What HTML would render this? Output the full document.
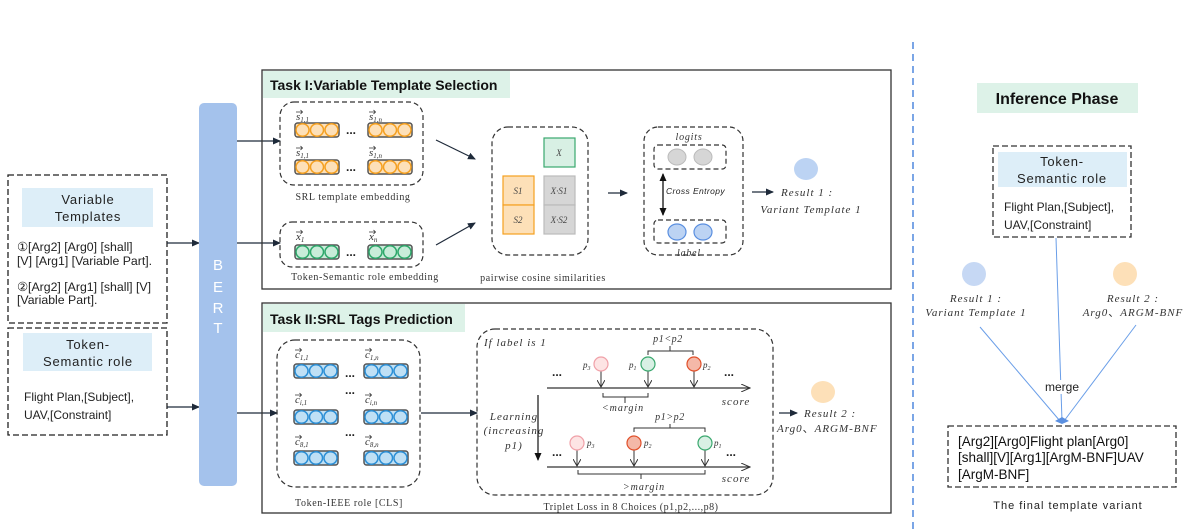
<!DOCTYPE html>
<html><head><meta charset="utf-8"><style>
html,body{margin:0;padding:0;background:#fff;}
svg{display:block;font-family:"Liberation Sans",sans-serif;}
.it{font-family:"Liberation Serif",serif;font-style:italic;}
.sf{font-family:"Liberation Serif",serif;}
</style></head><body>
<svg width="1196" height="532" viewBox="0 0 1196 532" xmlns="http://www.w3.org/2000/svg">
<defs>
<marker id="ah" markerWidth="8" markerHeight="8" refX="7" refY="4" orient="auto" markerUnits="userSpaceOnUse"><path d="M0,0.5 L8,4 L0,7.5 Z" fill="#1e2a3a"/></marker>
<marker id="ahs" markerWidth="8" markerHeight="8" refX="7" refY="4" orient="auto-start-reverse" markerUnits="userSpaceOnUse"><path d="M0,0.5 L8,4 L0,7.5 Z" fill="#111"/></marker>
<marker id="vh" markerWidth="8" markerHeight="8" refX="7" refY="4" orient="auto" markerUnits="userSpaceOnUse"><path d="M0,0 L7,4 L0,8" fill="none" stroke="#333" stroke-width="1"/></marker>
<marker id="oh" markerWidth="10" markerHeight="8" refX="9" refY="4" orient="auto" markerUnits="userSpaceOnUse"><path d="M0,0 L9,4 L0,8" fill="none" stroke="#333" stroke-width="1"/></marker>
<path id="va" d="M0,0 H6.5 M4.5,-2 L6.5,0 L4.5,2" fill="none" stroke="#333" stroke-width="0.8"/>
<g id="og"><rect x="0" y="-7" width="44" height="14" rx="2.5" fill="#fde0b8" stroke="#555" stroke-width="1.5"/><ellipse cx="7.5" cy="0" rx="6.5" ry="6.3" fill="#fde0b8" stroke="#f5a020" stroke-width="1.5"/><ellipse cx="22" cy="0" rx="6.5" ry="6.3" fill="#fde0b8" stroke="#f5a020" stroke-width="1.5"/><ellipse cx="36.5" cy="0" rx="6.5" ry="6.3" fill="#fde0b8" stroke="#f5a020" stroke-width="1.5"/></g>
<g id="gg"><rect x="0" y="-7" width="44" height="14" rx="2.5" fill="#c8ecd9" stroke="#555" stroke-width="1.5"/><ellipse cx="7.5" cy="0" rx="6.5" ry="6.3" fill="#c8ecd9" stroke="#2ea86b" stroke-width="1.5"/><ellipse cx="22" cy="0" rx="6.5" ry="6.3" fill="#c8ecd9" stroke="#2ea86b" stroke-width="1.5"/><ellipse cx="36.5" cy="0" rx="6.5" ry="6.3" fill="#c8ecd9" stroke="#2ea86b" stroke-width="1.5"/></g>
<g id="bg"><rect x="0" y="-7" width="44" height="14" rx="2.5" fill="#bfe0f5" stroke="#555" stroke-width="1.5"/><ellipse cx="7.5" cy="0" rx="6.5" ry="6.3" fill="#bfe0f5" stroke="#2b8fd6" stroke-width="1.5"/><ellipse cx="22" cy="0" rx="6.5" ry="6.3" fill="#bfe0f5" stroke="#2b8fd6" stroke-width="1.5"/><ellipse cx="36.5" cy="0" rx="6.5" ry="6.3" fill="#bfe0f5" stroke="#2b8fd6" stroke-width="1.5"/></g>
</defs>

<!-- Left boxes -->
<rect x="8" y="175" width="159" height="148" fill="none" stroke="#222" stroke-width="1.3" stroke-dasharray="6,3"/>
<rect x="22" y="188" width="131" height="39" fill="#ddeef8"/>
<text x="88" y="204" font-size="13" text-anchor="middle" letter-spacing="0.8" fill="#222">Variable</text>
<text x="88" y="221" font-size="13" text-anchor="middle" letter-spacing="0.8" fill="#222">Templates</text>
<g font-size="12.3" fill="#222">
<text x="17" y="251">①[Arg2] [Arg0] [shall]</text>
<text x="17" y="265">[V] [Arg1] [Variable Part].</text>
<text x="17" y="291">②[Arg2] [Arg1] [shall] [V]</text>
<text x="17" y="304">[Variable Part].</text>
</g>
<rect x="8" y="328" width="159" height="107" fill="none" stroke="#222" stroke-width="1.3" stroke-dasharray="6,3"/>
<rect x="23" y="333" width="129" height="38" fill="#ddeef8"/>
<text x="88" y="349" font-size="13" text-anchor="middle" letter-spacing="0.8" fill="#222">Token-</text>
<text x="88" y="366" font-size="13" text-anchor="middle" letter-spacing="0.8" fill="#222">Semantic role</text>
<text x="24" y="401" font-size="12" fill="#222">Flight Plan,[Subject],</text>
<text x="24" y="419" font-size="12" fill="#222">UAV,[Constraint]</text>
<line x1="167" y1="243" x2="199" y2="243" stroke="#1e2a3a" stroke-width="1.2" marker-end="url(#ah)"/>
<line x1="167" y1="407" x2="199" y2="407" stroke="#1e2a3a" stroke-width="1.2" marker-end="url(#ah)"/>

<!-- BERT -->
<rect x="199" y="103" width="38" height="383" rx="5" fill="#a4c2ec"/>
<g font-size="15" fill="#fff" text-anchor="middle"><text x="218" y="270">B</text><text x="218" y="292">E</text><text x="218" y="313">R</text><text x="218" y="333">T</text></g>
<line x1="237" y1="141" x2="280" y2="141" stroke="#1e2a3a" stroke-width="1.2" marker-end="url(#ah)"/>
<line x1="237" y1="243" x2="280" y2="243" stroke="#1e2a3a" stroke-width="1.2" marker-end="url(#ah)"/>
<line x1="237" y1="413" x2="277" y2="413" stroke="#1e2a3a" stroke-width="1.2" marker-end="url(#ah)"/>

<!-- Task I -->
<rect x="262" y="70" width="629" height="219" fill="none" stroke="#333" stroke-width="1.3"/>
<rect x="263" y="71" width="247" height="27" fill="#ddf2e8"/>
<text x="270" y="90" font-size="14" font-weight="bold" fill="#111">Task I:Variable Template Selection</text>
<rect x="280" y="102" width="143" height="83" rx="14" fill="none" stroke="#333" stroke-width="1.2" stroke-dasharray="5,3"/>
<g class="it" font-size="11" fill="#333">
<text x="296" y="120">s<tspan font-size="7" dy="2">1,1</tspan></text>
<text x="369" y="120">s<tspan font-size="7" dy="2">1,n</tspan></text>
<text x="296" y="156">s<tspan font-size="7" dy="2">1,1</tspan></text>
<text x="369" y="156">s<tspan font-size="7" dy="2">1,n</tspan></text>
</g>
<use href="#va" x="296" y="112"/><use href="#va" x="369" y="112"/><use href="#va" x="296" y="148"/><use href="#va" x="369" y="148"/>
<use href="#og" x="295" y="130"/><use href="#og" x="368" y="130"/>
<use href="#og" x="295" y="167"/><use href="#og" x="368" y="167"/>
<text x="346" y="134" font-size="12" font-weight="bold" fill="#222">...</text>
<text x="346" y="171" font-size="12" font-weight="bold" fill="#222">...</text>
<text x="353" y="200" class="sf" font-size="10" text-anchor="middle" letter-spacing="0.6" fill="#333">SRL template embedding</text>
<rect x="280" y="222" width="143" height="45" rx="12" fill="none" stroke="#333" stroke-width="1.2" stroke-dasharray="5,3"/>
<text x="296" y="240" class="it" font-size="11" fill="#333">x<tspan font-size="7" dy="2">1</tspan></text>
<text x="369" y="240" class="it" font-size="11" fill="#333">x<tspan font-size="7" dy="2">n</tspan></text>
<use href="#va" x="296" y="232"/><use href="#va" x="369" y="232"/>
<use href="#gg" x="295" y="252"/><use href="#gg" x="368" y="252"/>
<text x="346" y="256" font-size="12" font-weight="bold" fill="#222">...</text>
<text x="365" y="280" class="sf" font-size="10" text-anchor="middle" letter-spacing="0.6" fill="#333">Token-Semantic role embedding</text>
<line x1="436" y1="140" x2="475" y2="159" stroke="#1e2a3a" stroke-width="1.2" marker-end="url(#ah)"/>
<line x1="436" y1="245" x2="475" y2="223" stroke="#1e2a3a" stroke-width="1.2" marker-end="url(#ah)"/>
<rect x="492" y="127" width="96" height="128" rx="16" fill="none" stroke="#333" stroke-width="1.2" stroke-dasharray="5,3"/>
<rect x="544" y="138" width="31" height="29" fill="#d8f0e4" stroke="#3aa86e" stroke-width="1.2"/>
<text x="559" y="156" class="it" font-size="9" text-anchor="middle" fill="#444">X</text>
<rect x="503" y="176" width="31" height="29" fill="#fde0b8" stroke="#f5a020" stroke-width="1.2"/>
<rect x="503" y="205" width="31" height="29" fill="#fde0b8" stroke="#f5a020" stroke-width="1.2"/>
<rect x="544" y="176" width="31" height="29" fill="#d6d6d6" stroke="#bbb" stroke-width="1.2"/>
<rect x="544" y="205" width="31" height="29" fill="#d6d6d6" stroke="#bbb" stroke-width="1.2"/>
<g class="it" font-size="9" text-anchor="middle" fill="#444">
<text x="518" y="194">S1</text><text x="518" y="223">S2</text><text x="559" y="194">X·S1</text><text x="559" y="223">X·S2</text></g>
<text x="543" y="281" class="sf" font-size="10" text-anchor="middle" letter-spacing="0.6" fill="#333">pairwise cosine similarities</text>
<line x1="608" y1="193" x2="627" y2="193" stroke="#1e2a3a" stroke-width="1.2" marker-end="url(#ah)"/>
<rect x="644" y="127" width="99" height="128" rx="14" fill="none" stroke="#333" stroke-width="1.2" stroke-dasharray="5,3"/>
<text x="689" y="140" class="it" font-size="10" text-anchor="middle" letter-spacing="0.8" fill="#333">logits</text>
<rect x="654" y="145" width="72" height="24" rx="4" fill="none" stroke="#333" stroke-width="1.2" stroke-dasharray="5,3"/>
<ellipse cx="677" cy="157" rx="9" ry="8" fill="#d6d6d6" stroke="#bbb"/>
<ellipse cx="703" cy="157" rx="9" ry="8" fill="#d6d6d6" stroke="#bbb"/>
<rect x="654" y="220" width="72" height="23" rx="4" fill="none" stroke="#333" stroke-width="1.2" stroke-dasharray="5,3"/>
<ellipse cx="677" cy="232" rx="9" ry="8" fill="#bcd3f3" stroke="#5a8fe0" stroke-width="1.2"/>
<ellipse cx="703" cy="232" rx="9" ry="8" fill="#bcd3f3" stroke="#5a8fe0" stroke-width="1.2"/>
<text x="689" y="256" class="it" font-size="10" text-anchor="middle" letter-spacing="0.8" fill="#333">label</text>
<line x1="663" y1="174" x2="663" y2="215" stroke="#111" stroke-width="1.3" marker-start="url(#ahs)" marker-end="url(#ahs)"/>
<text x="666" y="194" font-size="8.5" font-style="italic" letter-spacing="0.4" fill="#222">Cross Entropy</text>
<line x1="752" y1="192" x2="773" y2="192" stroke="#1e2a3a" stroke-width="1.2" marker-end="url(#ah)"/>
<text x="781" y="196" class="it" font-size="11" letter-spacing="1" fill="#333">Result 1 :</text>
<text x="811" y="213" class="it" font-size="11" text-anchor="middle" letter-spacing="1" fill="#333">Variant Template 1</text>
<ellipse cx="806" cy="169" rx="12" ry="11" fill="#bcd3f3"/>

<!-- Task II -->
<rect x="262" y="303" width="629" height="210" fill="none" stroke="#333" stroke-width="1.3"/>
<rect x="263" y="304" width="202" height="28" fill="#ddf2e8"/>
<text x="270" y="324" font-size="14" font-weight="bold" fill="#111">Task II:SRL Tags Prediction</text>
<rect x="277" y="340" width="143" height="147" rx="18" fill="none" stroke="#333" stroke-width="1.2" stroke-dasharray="5,3"/>
<g class="it" font-size="11" fill="#333">
<text x="295" y="358">c<tspan font-size="7" dy="2">1,1</tspan></text>
<text x="365" y="358">c<tspan font-size="7" dy="2">1,n</tspan></text>
<text x="295" y="403">c<tspan font-size="7" dy="2">i,1</tspan></text>
<text x="365" y="403">c<tspan font-size="7" dy="2">i,n</tspan></text>
<text x="295" y="445">c<tspan font-size="7" dy="2">8,1</tspan></text>
<text x="365" y="445">c<tspan font-size="7" dy="2">8,n</tspan></text>
</g>
<use href="#va" x="295" y="350"/><use href="#va" x="365" y="350"/><use href="#va" x="295" y="395"/><use href="#va" x="365" y="395"/><use href="#va" x="295" y="437"/><use href="#va" x="365" y="437"/>
<use href="#bg" x="294" y="371"/><use href="#bg" x="364" y="371"/>
<use href="#bg" x="294" y="417"/><use href="#bg" x="364" y="417"/>
<use href="#bg" x="294" y="458"/><use href="#bg" x="364" y="458"/>
<g font-size="12" font-weight="bold" fill="#222"><text x="345" y="377">...</text><text x="345" y="394">...</text><text x="345" y="436">...</text></g>
<text x="349" y="506" class="sf" font-size="10" text-anchor="middle" letter-spacing="0.6" fill="#333">Token-IEEE role [CLS]</text>
<line x1="421" y1="413" x2="477" y2="413" stroke="#1e2a3a" stroke-width="1.2" marker-end="url(#ah)"/>
<rect x="477" y="329" width="296" height="166" rx="18" fill="none" stroke="#333" stroke-width="1.2" stroke-dasharray="5,3"/>
<text x="484" y="346" class="it" font-size="11" letter-spacing="1" fill="#333">If label is 1</text>
<!-- top row -->
<line x1="547" y1="388" x2="750" y2="388" stroke="#333" stroke-width="1.2" marker-end="url(#oh)"/>
<line x1="601" y1="371" x2="601" y2="387" stroke="#333" stroke-width="1" marker-end="url(#vh)"/>
<line x1="648" y1="371" x2="648" y2="387" stroke="#333" stroke-width="1" marker-end="url(#vh)"/>
<line x1="694" y1="371" x2="694" y2="387" stroke="#333" stroke-width="1" marker-end="url(#vh)"/>
<circle cx="601" cy="364" r="7" fill="#fde4e4" stroke="#f0a0a8" stroke-width="1.2"/>
<circle cx="648" cy="364" r="7" fill="#d8f0e4" stroke="#3aa86e" stroke-width="1.2"/>
<circle cx="694" cy="364" r="7" fill="#f4b8a8" stroke="#e0502a" stroke-width="1.2"/>
<g class="it" font-size="9" fill="#333"><text x="583" y="368">p<tspan font-size="6" dy="2">3</tspan></text><text x="629" y="368">p<tspan font-size="6" dy="2">1</tspan></text><text x="703" y="368">p<tspan font-size="6" dy="2">2</tspan></text></g>
<g font-size="12" font-weight="bold" fill="#222"><text x="552" y="376">...</text><text x="724" y="376">...</text></g>
<path d="M648,355 V351 H693 V355 M670,351 V346" fill="none" stroke="#333" stroke-width="1"/>
<text x="668" y="342" class="it" font-size="10" text-anchor="middle" letter-spacing="0.6" fill="#333">p1&lt;p2</text>
<path d="M603,393 V397 H648 V393 M625,397 V403" fill="none" stroke="#333" stroke-width="1"/>
<text x="623" y="411" class="it" font-size="10" text-anchor="middle" letter-spacing="1" fill="#333">&lt;margin</text>
<text x="736" y="405" class="it" font-size="11" text-anchor="middle" letter-spacing="1" fill="#333">score</text>
<!-- learning -->
<text x="514" y="420" class="it" font-size="11" text-anchor="middle" letter-spacing="1" fill="#333">Learning</text>
<text x="514" y="434" class="it" font-size="11" text-anchor="middle" letter-spacing="1" fill="#333">(increasing</text>
<text x="514" y="449" class="it" font-size="11" text-anchor="middle" letter-spacing="1" fill="#333">p1)</text>
<line x1="538" y1="395" x2="538" y2="460" stroke="#111" stroke-width="1.2" marker-end="url(#ahs)"/>
<!-- bottom row -->
<line x1="547" y1="467" x2="750" y2="467" stroke="#333" stroke-width="1.2" marker-end="url(#oh)"/>
<line x1="577" y1="450" x2="577" y2="466" stroke="#333" stroke-width="1" marker-end="url(#vh)"/>
<line x1="634" y1="450" x2="634" y2="466" stroke="#333" stroke-width="1" marker-end="url(#vh)"/>
<line x1="705" y1="450" x2="705" y2="466" stroke="#333" stroke-width="1" marker-end="url(#vh)"/>
<circle cx="577" cy="443" r="7" fill="#fde4e4" stroke="#f0a0a8" stroke-width="1.2"/>
<circle cx="634" cy="443" r="7" fill="#f4b8a8" stroke="#e0502a" stroke-width="1.2"/>
<circle cx="705" cy="443" r="7" fill="#d8f0e4" stroke="#3aa86e" stroke-width="1.2"/>
<g class="it" font-size="9" fill="#333"><text x="587" y="446">p<tspan font-size="6" dy="2">3</tspan></text><text x="644" y="446">p<tspan font-size="6" dy="2">2</tspan></text><text x="714" y="446">p<tspan font-size="6" dy="2">1</tspan></text></g>
<g font-size="12" font-weight="bold" fill="#222"><text x="552" y="456">...</text><text x="726" y="456">...</text></g>
<path d="M634,432 V428 H705 V432 M670,428 V424" fill="none" stroke="#333" stroke-width="1"/>
<text x="670" y="420" class="it" font-size="10" text-anchor="middle" letter-spacing="0.6" fill="#333">p1&gt;p2</text>
<path d="M578,470 V474 H705 V470 M641,474 V479" fill="none" stroke="#333" stroke-width="1"/>
<text x="644" y="490" class="it" font-size="10" text-anchor="middle" letter-spacing="1" fill="#333">&gt;margin</text>
<text x="736" y="482" class="it" font-size="11" text-anchor="middle" letter-spacing="1" fill="#333">score</text>
<text x="631" y="510" class="sf" font-size="10" text-anchor="middle" letter-spacing="0.5" fill="#333">Triplet Loss in 8 Choices (p1,p2,...,p8)</text>
<line x1="779" y1="413" x2="797" y2="413" stroke="#1e2a3a" stroke-width="1.2" marker-end="url(#ah)"/>
<text x="804" y="417" class="it" font-size="11" letter-spacing="1" fill="#333">Result 2 :</text>
<text x="777" y="432" class="it" font-size="11" letter-spacing="1" fill="#333">Arg0<tspan font-family="'Noto Sans CJK SC',sans-serif" font-style="normal">、</tspan>ARGM-BNF</text>
<ellipse cx="823" cy="392" rx="12" ry="11" fill="#fde0b8"/>

<!-- Inference -->
<line x1="913" y1="42" x2="913" y2="532" stroke="#5a8fe0" stroke-width="1.6" stroke-dasharray="7,5"/>
<rect x="977" y="83" width="161" height="30" fill="#ddf2e8"/>
<text x="1057" y="104" font-size="16" font-weight="bold" text-anchor="middle" fill="#111">Inference Phase</text>
<rect x="993" y="146" width="138" height="91" fill="none" stroke="#333" stroke-width="1.3" stroke-dasharray="6,3"/>
<rect x="998" y="152" width="129" height="35" fill="#ddeef8"/>
<text x="1062" y="166" font-size="13" text-anchor="middle" letter-spacing="0.8" fill="#222">Token-</text>
<text x="1062" y="183" font-size="13" text-anchor="middle" letter-spacing="0.8" fill="#222">Semantic role</text>
<text x="1004" y="211" font-size="12" fill="#222">Flight Plan,[Subject],</text>
<text x="1004" y="229" font-size="12" fill="#222">UAV,[Constraint]</text>
<circle cx="974" cy="274" r="12" fill="#c6d8f4"/>
<circle cx="1125" cy="274" r="12" fill="#fde0b8"/>
<text x="976" y="302" class="it" font-size="11" text-anchor="middle" letter-spacing="1" fill="#333">Result 1 :</text>
<text x="976" y="316" class="it" font-size="11" text-anchor="middle" letter-spacing="1" fill="#333">Variant Template 1</text>
<text x="1133" y="302" class="it" font-size="11" text-anchor="middle" letter-spacing="1" fill="#333">Result 2 :</text>
<text x="1133" y="316" class="it" font-size="11" text-anchor="middle" letter-spacing="1" fill="#333">Arg0<tspan font-family="'Noto Sans CJK SC',sans-serif" font-style="normal">、</tspan>ARGM-BNF</text>
<g stroke="#6a9ee8" stroke-width="1"><line x1="980" y1="327" x2="1060" y2="421"/><line x1="1136" y1="325" x2="1064" y2="421"/><line x1="1056" y1="238" x2="1062" y2="421"/></g>
<rect x="1042" y="380" width="40" height="14" fill="#fff"/>
<text x="1062" y="391" font-size="12" text-anchor="middle" fill="#222">merge</text>
<path d="M1055,421 L1062,417 L1069,421 L1062,424 Z" fill="#5a8fe0"/>
<rect x="948" y="426" width="228" height="61" fill="none" stroke="#333" stroke-width="1.3" stroke-dasharray="6,3"/>
<g font-size="13.5" fill="#111"><text x="958" y="446">[Arg2][Arg0]Flight plan[Arg0]</text><text x="958" y="462">[shall][V][Arg1][ArgM-BNF]UAV</text><text x="958" y="479">[ArgM-BNF]</text></g>
<text x="1068" y="509" font-size="11" text-anchor="middle" letter-spacing="1" fill="#222">The final template variant</text>
</svg>
</body></html>
